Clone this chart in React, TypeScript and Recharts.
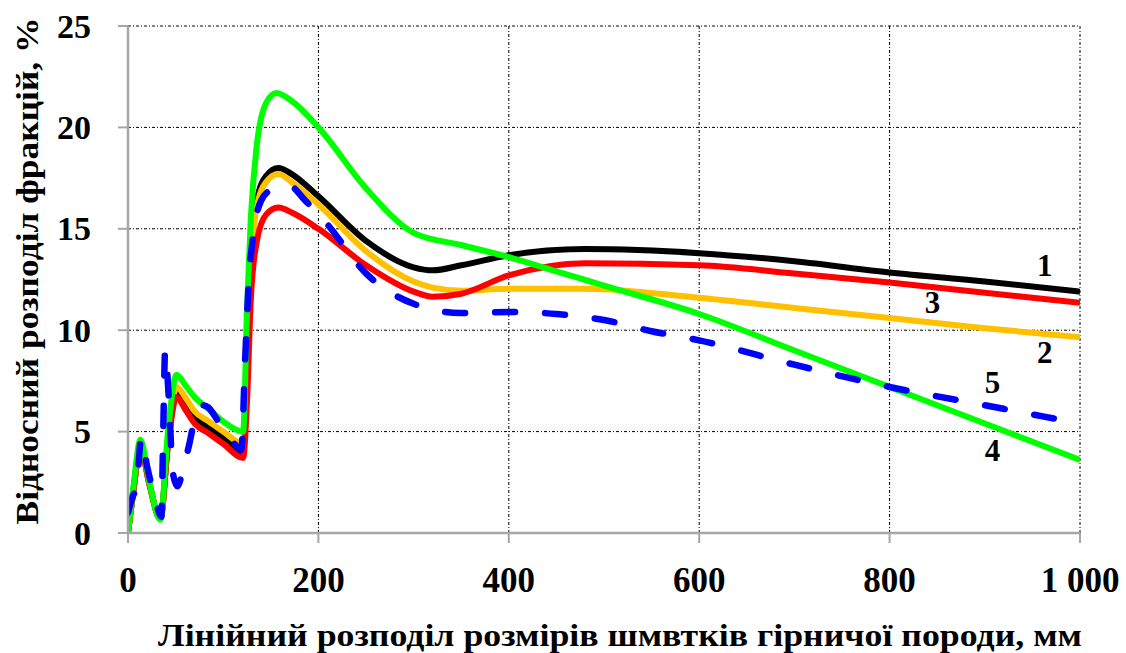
import React from 'react';
import { LineChart, Line, XAxis, YAxis, CartesianGrid, ReferenceDot } from 'recharts';

const FONT = "'Liberation Serif', 'Times New Roman', 'DejaVu Serif', serif";

const xTicks = [0, 200, 400, 600, 800, 1000];
const yTicks = [0, 5, 10, 15, 20, 25];

const sizesA = [0, 6, 13, 22, 34, 42, 51, 60, 70, 85, 100, 121, 125, 129, 135, 145, 158, 172, 200, 250, 300, 320, 350, 400, 480, 600, 700, 800, 900, 1000];
const curve1 = [0, 2.2, 4.3, 2.5, 0.7, 4.5, 6.9, 6.4, 5.7, 5.2, 4.7, 4.0, 8.5, 13.5, 16.3, 17.6, 18.0, 17.7, 16.6, 14.4, 13.1, 12.95, 13.2, 13.7, 14.0, 13.8, 13.4, 12.85, 12.4, 11.9];
const curve2 = [0, 2.2, 4.3, 2.5, 0.7, 4.6, 7.2, 6.7, 6.0, 5.5, 5.0, 4.4, 8.5, 13.2, 16.0, 17.3, 17.7, 17.3, 16.2, 13.9, 12.4, 12.1, 11.95, 12.05, 12.05, 11.6, 11.1, 10.6, 10.1, 9.65];
const curve3 = [0, 2.2, 4.3, 2.5, 0.7, 4.3, 6.7, 6.1, 5.4, 4.9, 4.4, 3.7, 6.5, 11.5, 14.3, 15.7, 16.05, 15.8, 15.0, 13.2, 11.9, 11.65, 11.8, 12.7, 13.3, 13.2, 12.8, 12.35, 11.85, 11.35];

const sizes4 = [0, 6, 13, 22, 34, 42, 51, 60, 70, 85, 100, 121, 125, 129, 135, 145, 156, 172, 200, 250, 300, 350, 400, 450, 500, 600, 700, 800, 900, 1000];
const curve4 = [0, 2.4, 4.6, 2.6, 0.65, 5.0, 7.8, 7.3, 6.7, 6.1, 5.5, 5.0, 11, 15.5, 19.0, 21.2, 21.7, 21.3, 20.0, 17.0, 14.8, 14.2, 13.6, 12.9, 12.2, 10.8, 9.0, 7.2, 5.4, 3.6];

const sizes5 = [0, 5, 9, 14, 20, 28, 35, 37, 39, 43, 47, 52, 58, 64, 70, 78, 84, 95, 105, 119, 123, 127, 131, 140, 150, 170, 186, 208, 250, 300, 350, 400, 450, 500, 550, 600, 700, 800, 900, 1000];
const curve5 = [1.0, 1.8, 2.3, 4.7, 3.3, 1.8, 0.8, 5, 9.0, 6.5, 3.0, 2.3, 3.2, 4.3, 5.6, 6.3, 6.2, 5.5, 4.9, 4.1, 8.5, 12.5, 14.5, 16.4, 16.9, 17.1, 16.4, 15.3, 12.8, 11.3, 10.85, 10.9, 10.8, 10.5, 9.95, 9.5, 8.3, 7.2, 6.3, 5.4];

const curveLabels = ['1', '3', '2', '5', '4'];
const labelX = [963, 845, 963, 908, 908];
const labelY = [13.2, 11.35, 8.9, 7.4, 4.05];

const toPoints = (xs: number[], ys: number[]) => xs.map((x, i) => ({ x, y: ys[i] }));

const data1 = toPoints(sizesA, curve1);
const data2 = toPoints(sizesA, curve2);
const data3 = toPoints(sizesA, curve3);
const data4 = toPoints(sizes4, curve4);
const data5 = toPoints(sizes5, curve5);

const fmtX = (v: number) => (v >= 1000 ? String(v).replace(/^(\d)(\d{3})$/, '$1 $2') : String(v));

const txtStyle: React.CSSProperties = { fontFamily: FONT, fontWeight: 700 };

const YTick = (props: any) => {
  const { y, payload } = props;
  return (
    <text x={91} y={y} textAnchor="end" dominantBaseline="central" style={txtStyle} fontSize={34} fill="#000">
      {payload.value}
    </text>
  );
};

const XTick = (props: any) => {
  const { x, payload } = props;
  return (
    <text x={x} y={580} textAnchor="middle" dominantBaseline="central" style={txtStyle} fontSize={35} fill="#000">
      {fmtX(payload.value)}
    </text>
  );
};

const XTitle = () => (
  <text x={620} y={646} textAnchor="middle" style={txtStyle} fontSize={32} fill="#000" textLength={924} lengthAdjust="spacingAndGlyphs">
    Лінійний розподіл розмірів шмвтків гірничої породи, мм
  </text>
);

const YTitle = () => (
  <text x={38} y={271} transform="rotate(-90, 38, 271)" textAnchor="middle" style={txtStyle} fontSize={31} fill="#000" textLength={507} lengthAdjust="spacingAndGlyphs">
    Відносний розподіл фракцій, %
  </text>
);

export default function App() {
  return (
    <div style={{ position: 'absolute', left: 0, top: 0, width: 1126, height: 653, background: '#fff' }}>
      <LineChart width={1126} height={653} margin={{ top: 26, right: 46, left: 0, bottom: 0 }}>
        <CartesianGrid stroke="#000" strokeDasharray="3 2 1 2" strokeWidth={1} />
        <XAxis
          type="number"
          dataKey="x"
          domain={[0, 1000]}
          ticks={xTicks}
          height={120}
          tick={<XTick />}
          tickSize={10}
          axisLine={{ stroke: '#a6a6a6', strokeWidth: 2.5 }}
          tickLine={{ stroke: '#a6a6a6', strokeWidth: 2 }}
          label={{ content: () => <XTitle /> }}
          allowDataOverflow
        />
        <YAxis
          type="number"
          dataKey="y"
          domain={[0, 25]}
          ticks={yTicks}
          width={128}
          tick={<YTick />}
          tickSize={10}
          axisLine={{ stroke: '#a6a6a6', strokeWidth: 2.5 }}
          tickLine={{ stroke: '#a6a6a6', strokeWidth: 2 }}
          label={{ content: () => <YTitle /> }}
          allowDataOverflow
        />
        <Line data={data1} dataKey="y" type="monotone" stroke="#000000" strokeWidth={6} dot={false} activeDot={false} isAnimationActive={false} />
        <Line data={data2} dataKey="y" type="monotone" stroke="#FFC000" strokeWidth={6} dot={false} activeDot={false} isAnimationActive={false} />
        <Line data={data3} dataKey="y" type="monotone" stroke="#FF0000" strokeWidth={6} dot={false} activeDot={false} isAnimationActive={false} />
        <Line data={data4} dataKey="y" type="monotone" stroke="#00FF00" strokeWidth={6} dot={false} activeDot={false} isAnimationActive={false} />
        <Line data={data5} dataKey="y" type="monotone" stroke="#0000FF" strokeWidth={6.5} strokeDasharray="20 30" strokeLinecap="round" dot={false} activeDot={false} isAnimationActive={false} />
        {curveLabels.map((t, i) => (
          <ReferenceDot
            key={t}
            x={labelX[i]}
            y={labelY[i]}
            r={0}
            shape={(p: any) => (
              <text x={p.cx} y={p.cy} textAnchor="middle" dominantBaseline="central" style={txtStyle} fontSize={31} fill="#000">
                {t}
              </text>
            )}
          />
        ))}
      </LineChart>
    </div>
  );
}
